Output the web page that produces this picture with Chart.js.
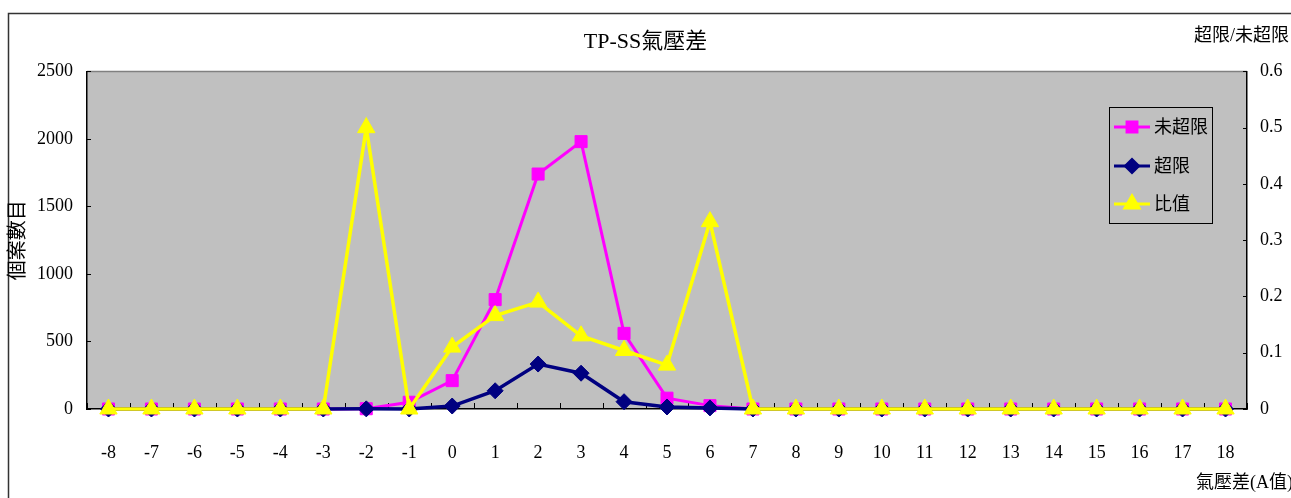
<!DOCTYPE html>
<html>
<head>
<meta charset="utf-8">
<script src="https://cdn.jsdelivr.net/npm/chart.js@4.4.1/dist/chart.umd.min.js"></script>
<style>
  html, body { margin: 0; padding: 0; background: #fff; }
  #wrap { width: 1291px; height: 498px; position: relative; }
</style>
</head>
<body>
<div id="wrap"><canvas id="c" width="1291" height="498"></canvas></div>
<script>
const categories = ['-8','-7','-6','-5','-4','-3','-2','-1','0','1','2','3','4','5','6','7','8','9','10','11','12','13','14','15','16','17','18'];
const notExceeded = [0,0,0,0,0,0,2,50,210,810,1740,1980,560,80,25,0,0,0,0,0,0,0,0,0,0,0,0];
const exceeded    = [0,0,0,0,0,0,1,0,22,135,333,265,54,15,8,0,0,0,0,0,0,0,0,0,0,0,0];
const ratio       = [0,0,0,0,0,0,0.5,0,0.11,0.166,0.19,0.13,0.104,0.078,0.333,0,0,0,0,0,0,0,0,0,0,0,0];
const leftTicks  = [0,500,1000,1500,2000,2500];
const rightTicks = [0,0.1,0.2,0.3,0.4,0.5,0.6];
const seriesNames = ['未超限','超限','比值'];
const titleText = 'TP-SS氣壓差';
const leftAxisTitle = '個案數目';
const rightAxisTitle = '超限/未超限';
const xAxisTitle = '氣壓差(A值)';

const FONT = "'Liberation Serif', 'Noto Sans CJK TC', serif";
const PLOT_BG = '#C0C0C0';

const decorPlugin = {
  id: 'decor',
  beforeDraw(chart) {
    const ctx = chart.ctx, a = chart.chartArea;
    ctx.save();
    ctx.fillStyle = '#fff';
    ctx.fillRect(0, 0, chart.width, chart.height);
    ctx.fillStyle = PLOT_BG;
    ctx.fillRect(a.left, a.top, a.right - a.left, a.bottom - a.top);
    ctx.strokeStyle = '#808080';
    ctx.lineWidth = 1.5;
    ctx.beginPath();
    ctx.moveTo(a.left, a.top); ctx.lineTo(a.right, a.top);
    ctx.stroke();
    ctx.strokeStyle = '#333';
    ctx.lineWidth = 1.5;
    ctx.beginPath();
    ctx.moveTo(8.5, chart.height); ctx.lineTo(8.5, 13.5); ctx.lineTo(chart.width, 13.5);
    ctx.stroke();
    ctx.restore();
  },
  beforeDatasetsDraw(chart) {
    // inward tick marks, placed by the library's scales
    const ctx = chart.ctx, a = chart.chartArea;
    const xs = chart.scales.x, ys = chart.scales.y, y1s = chart.scales.y1;
    ctx.save();
    ctx.strokeStyle = '#000';
    ctx.lineWidth = 1;
    ctx.beginPath();
    const n = categories.length;
    const step = xs.getPixelForValue(1) - xs.getPixelForValue(0);
    for (let i = 0; i <= n; i++) {
      const px = Math.round(xs.getPixelForValue(0) - step / 2 + i * step) + 0.5;
      ctx.moveTo(px, a.bottom); ctx.lineTo(px, a.bottom - 6);
    }
    leftTicks.forEach(v => {
      const py = Math.round(ys.getPixelForValue(v)) + 0.5;
      ctx.moveTo(a.left, py); ctx.lineTo(a.left + 4, py);
    });
    rightTicks.forEach(v => {
      const py = Math.round(y1s.getPixelForValue(v)) + 0.5;
      ctx.moveTo(a.right, py); ctx.lineTo(a.right - 4, py);
    });
    ctx.stroke();
    ctx.restore();
  },
  afterDraw(chart) {
    const ctx = chart.ctx;
    ctx.save();
    ctx.fillStyle = '#000';
    ctx.font = "18px " + FONT;
    ctx.textBaseline = 'middle';
    ctx.textAlign = 'right';
    ctx.fillText(rightAxisTitle, 1289, 36);
    ctx.textAlign = 'left';
    ctx.fillText(xAxisTitle, 1196, 483);
    const bx = 1109, by = 107, bw = 103, bh = 116;
    ctx.fillStyle = PLOT_BG;
    ctx.fillRect(bx, by, bw, bh);
    ctx.strokeStyle = '#000';
    ctx.lineWidth = 1;
    ctx.strokeRect(bx + 0.5, by + 0.5, bw, bh);
    const rows = [127, 166, 204];
    chart.data.datasets.forEach((ds, i) => {
      const y = rows[i];
      ctx.strokeStyle = ds.borderColor;
      ctx.lineWidth = 3;
      ctx.beginPath();
      ctx.moveTo(1114, y); ctx.lineTo(1150, y);
      ctx.stroke();
      ctx.fillStyle = ds.pointBackgroundColor;
      ctx.strokeStyle = ds.pointBorderColor;
      Chart.helpers.drawPoint(ctx, {pointStyle: ds.pointStyle, radius: ds.legendRadius, rotation: 0, borderWidth: 1}, 1132, y);
      ctx.fillStyle = '#000';
      ctx.font = "18px " + FONT;
      ctx.textAlign = 'left';
      ctx.textBaseline = 'middle';
      ctx.fillText(ds.label, 1154, y + 1);
    });
    ctx.restore();
  }
};

new Chart(document.getElementById('c'), {
  type: 'line',
  data: {
    labels: categories,
    datasets: [
      {
        label: seriesNames[0], data: notExceeded, yAxisID: 'y', order: 3,
        borderColor: '#FF00FF', backgroundColor: '#FF00FF',
        pointBackgroundColor: '#FF00FF', pointBorderColor: '#FF00FF',
        pointStyle: 'rect', pointRadius: 8.5, pointBorderWidth: 1, borderWidth: 3,
        legendRadius: 7, tension: 0, clip: false
      },
      {
        label: seriesNames[1], data: exceeded, yAxisID: 'y', order: 2,
        borderColor: '#000080', backgroundColor: '#000080',
        pointBackgroundColor: '#000080', pointBorderColor: '#000080',
        pointStyle: 'rectRot', pointRadius: 8, pointBorderWidth: 1, borderWidth: 3.5,
        legendRadius: 6.5, tension: 0, clip: false
      },
      {
        label: seriesNames[2], data: ratio, yAxisID: 'y1', order: 1,
        borderColor: '#FFFF00', backgroundColor: '#FFFF00',
        pointBackgroundColor: '#FFFF00', pointBorderColor: '#FFFF00',
        pointStyle: 'triangle', pointRadius: 10, pointBorderWidth: 1, borderWidth: 3.5,
        legendRadius: 8, tension: 0, clip: false
      }
    ]
  },
  options: {
    responsive: false,
    animation: false,
    devicePixelRatio: 1,
    layout: { padding: 0 },
    plugins: {
      legend: { display: false },
      tooltip: { enabled: false },
      title: {
        display: true, text: titleText, color: '#000',
        font: { family: FONT, size: 22, weight: 'normal', lineHeight: 1.2 },
        padding: { top: 29, bottom: 16 }
      }
    },
    scales: {
      x: {
        type: 'category', offset: true,
        grid: { display: false, offset: true, drawOnChartArea: false, drawTicks: false },
        border: { display: true, color: '#000', width: 1.5 },
        ticks: { color: '#000', font: { family: FONT, size: 18 }, padding: 33, maxRotation: 0, autoSkip: false },
        afterFit(s) { s.height = 89; }
      },
      y: {
        position: 'left', min: leftTicks[0], max: leftTicks[leftTicks.length - 1],
        afterBuildTicks(s) { s.ticks = leftTicks.map(v => ({ value: v })); },
        grid: { display: false, drawOnChartArea: false, drawTicks: false },
        border: { display: true, color: '#000', width: 1.5 },
        ticks: { color: '#000', font: { family: FONT, size: 18 }, padding: 14, callback: v => String(v) },
        title: { display: true, text: leftAxisTitle, color: '#000', font: { family: FONT, size: 20 }, padding: { top: 7, bottom: 0 } },
        afterFit(s) { s.width = 87; }
      },
      y1: {
        position: 'right', min: rightTicks[0], max: rightTicks[rightTicks.length - 1],
        afterBuildTicks(s) { s.ticks = rightTicks.map(v => ({ value: v })); },
        grid: { display: false, drawOnChartArea: false, drawTicks: false },
        border: { display: true, color: '#000', width: 1.5 },
        ticks: { color: '#000', font: { family: FONT, size: 18 }, padding: 13, callback: v => String(+(+v).toFixed(1)) },
        afterFit(s) { s.width = 44; }
      }
    }
  },
  plugins: [decorPlugin]
});
</script>
</body>
</html>
